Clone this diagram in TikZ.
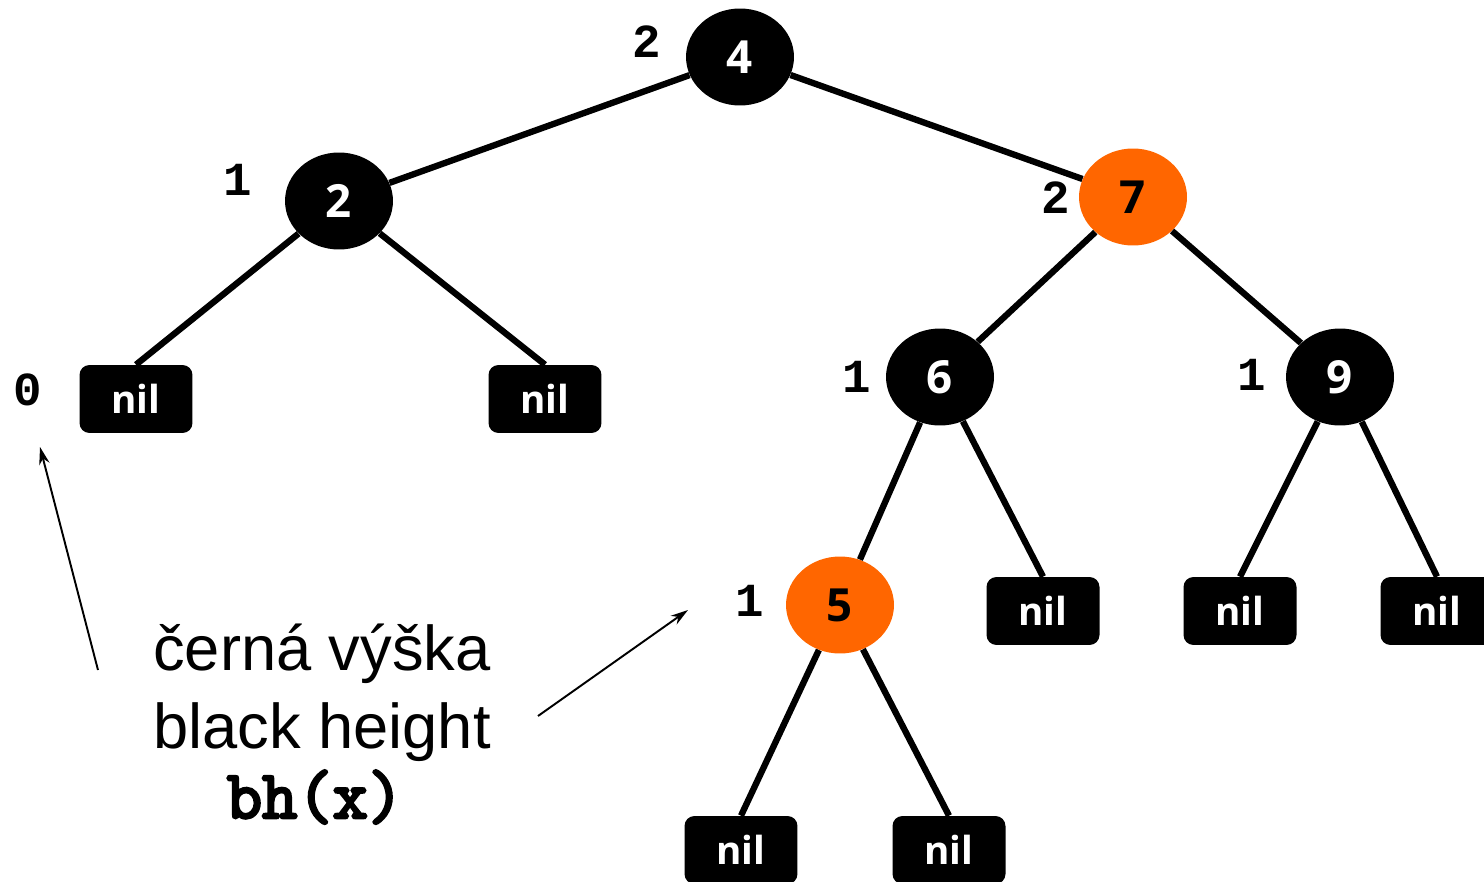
\documentclass[tikz,border=0pt]{standalone}
\usepackage{fontspec}
\setmainfont{Liberation Sans}
\newfontfamily\nodefont{Open Sans}
\newfontfamily\heightfont{Liberation Mono}
\newfontfamily\codefont[FakeBold=4]{Latin Modern Mono}
\usetikzlibrary{shapes.geometric,arrows.meta}

\definecolor{rbred}{RGB}{255,102,0}

\tikzset{
    rbnode/.style={ellipse, minimum width=2.16cm, minimum height=1.94cm, inner sep=0pt,
        font=\nodefont\fontsize{26}{26}\selectfont\bfseries},
    blacknode/.style={rbnode, fill=black, text=white},
    rednode/.style={rbnode, fill=rbred, text=black},
    nilbox/.style={rectangle, rounded corners=0.2cm, fill=black, text=white,
        minimum width=2.26cm, minimum height=1.36cm, inner sep=0pt,
        font=\nodefont\fontsize{22}{22}\selectfont\bfseries},
    bhlabel/.style={font=\heightfont\bfseries\fontsize{27}{27}\selectfont},
    edge/.style={line width=3.6pt},
    pointer/.style={line width=1.1pt, -{Stealth[length=10pt,width=6pt]}}
}

\begin{document}
\begin{tikzpicture}[x=0.02cm, y=-0.02cm]
    \useasboundingbox (0,0) rectangle (1484,882);

    % Draw the inner nodes
    \node[blacknode] (n4) at (740,57) {4};
    \node[blacknode] (n2) at (339,201) {2};
    \node[rednode]   (n7) at (1133,197) {7};
    \node[blacknode] (n6) at (940,377) {6};
    \node[blacknode] (n9) at (1340,377) {9};
    \node[rednode]   (n5) at (840,605) {5};

    % Draw the nil leaves
    \node[nilbox] (nilA) at (136,399) {nil};
    \node[nilbox] (nilB) at (545,399) {nil};
    \node[nilbox] (nilC) at (1043,611) {nil};
    \node[nilbox] (nilD) at (1240,611) {nil};
    \node[nilbox] (nilE) at (1437,611) {nil};
    \node[nilbox] (nilF) at (741,850) {nil};
    \node[nilbox] (nilG) at (949,850) {nil};

    % Draw the tree edges
    \draw[edge] (n4) -- (n2);
    \draw[edge] (n4) -- (n7);
    \draw[edge] (n2) -- (nilA.north);
    \draw[edge] (n2) -- (nilB.north);
    \draw[edge] (n7) -- (n6);
    \draw[edge] (n7) -- (n9);
    \draw[edge] (n6) -- (n5);
    \draw[edge] (n6) -- (nilC.north);
    \draw[edge] (n9) -- (nilD.north);
    \draw[edge] (n9) -- (nilE.north);
    \draw[edge] (n5) -- (nilF.north);
    \draw[edge] (n5) -- (nilG.north);

    % Draw the black heights next to the nodes
    \foreach \name/\x/\y/\h in {bh4/647/42/2, bh2/238/180/1, bh7/1056/198/2,
        bh6/857/377/1, bh9/1252/375/1, bh5/750/601/1, bh0/28/390/0} {
        \node[bhlabel] (\name) at (\x,\y) {\h};
    }

    % Draw the caption and its pointers
    \node[anchor=base, font=\fontsize{36}{36}\selectfont] (capA) at (322,670) {černá výška};
    \node[anchor=base, font=\fontsize{36}{36}\selectfont] (capB) at (322,748) {black height};
    \node[anchor=base, font=\codefont\fontsize{39}{39}\selectfont] (capC) at (315,818) {bh(x)};
    \coordinate (tailA) at (98,670);
    \coordinate (headA) at (40,447);
    \coordinate (tailB) at (538,716);
    \coordinate (headB) at (688,610);
    \draw[pointer] (tailA) -- (headA);
    \draw[pointer] (tailB) -- (headB);

\end{tikzpicture}
\end{document}
